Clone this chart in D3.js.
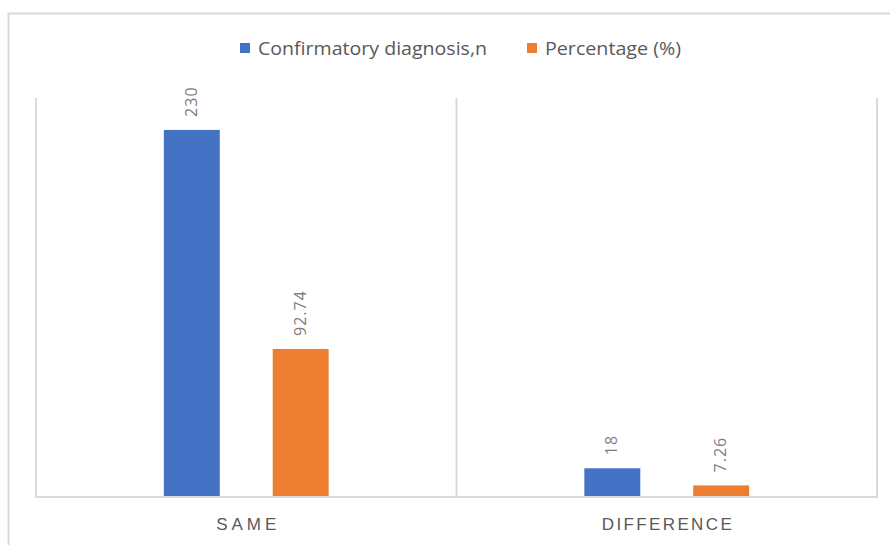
<!DOCTYPE html>
<html>
<head>
<meta charset="utf-8">
<script src="https://cdn.jsdelivr.net/npm/d3@7/dist/d3.min.js"></script>
<style>
  html, body { margin: 0; padding: 0; background: #fff; }
  svg { display: block; }
  text { font-family: "Liberation Sans Narrow", "Open Sans", sans-serif; }
</style>
</head>
<body>
<svg id="chart" width="890" height="545"></svg>
<script>
// Chart data
const categories = ["SAME", "DIFFERENCE"];
const seriesNames = ["Confirmatory diagnosis,n", "Percentage (%)"];
const diagnosisCounts = [230, 18];
const percentages = [92.74, 7.26];
const valueLabels = [["230", "92.74"], ["18", "7.26"]];
const colors = ["#4472C4", "#ED7D31"];

const svg = d3.select("#chart");

// Outer chart frame (extends past the right and bottom edges)
svg.append("rect")
  .attr("x", 8.5).attr("y", 13.5)
  .attr("width", 900).attr("height", 560)
  .attr("fill", "#fff")
  .attr("stroke", "#d9d9d9").attr("stroke-width", 2);

const plot = { left: 36, right: 877, top: 98, bottom: 497 };

const x0 = d3.scaleBand()
  .domain(categories)
  .range([plot.left, plot.right])
  .paddingInner(0).paddingOuter(0);

const x1 = d3.scaleBand()
  .domain(seriesNames)
  .range([0, x0.bandwidth()])
  .paddingInner(0.486)
  .paddingOuter(1.174);

const y = d3.scaleLinear().domain([0, 250]).range([plot.bottom, plot.top]);

// Vertical category separators
const sepPositions = [plot.left, plot.left + x0.bandwidth(), plot.right];
svg.append("g").selectAll("line")
  .data(sepPositions)
  .join("line")
  .attr("x1", d => d).attr("x2", d => d)
  .attr("y1", plot.top).attr("y2", plot.bottom)
  .attr("stroke", "#d9d9d9").attr("stroke-width", 2);

// Bars
const rows = categories.map((c, i) => ({
  category: c,
  values: [diagnosisCounts[i], percentages[i]],
  labels: valueLabels[i]
}));

const groups = svg.append("g").selectAll("g")
  .data(rows)
  .join("g")
  .attr("transform", d => `translate(${x0(d.category)},0)`);

groups.selectAll("rect")
  .data(d => d.values.map((v, j) => ({ v, j, label: d.labels[j] })))
  .join("rect")
  .attr("x", d => x1(seriesNames[d.j]))
  .attr("width", x1.bandwidth())
  .attr("y", d => y(d.v))
  .attr("height", d => y(0) - y(d.v))
  .attr("fill", d => colors[d.j]);

// Rotated value labels
groups.selectAll("text")
  .data(d => d.values.map((v, j) => ({ v, j, label: d.labels[j] })))
  .join("text")
  .attr("transform", d => {
    const cx = x1(seriesNames[d.j]) + x1.bandwidth() / 2 + 5;
    const cy = y(d.v) - 13;
    return `translate(${cx},${cy}) rotate(-90)`;
  })
  .attr("text-anchor", "start")
  .attr("font-size", 16)
  .attr("letter-spacing", 1)
  .attr("fill", "#7f7f7f")
  .style("font-family", "\"Open Sans\", sans-serif")
  .text(d => d.label);

// Bottom axis line
svg.append("line")
  .attr("x1", plot.left - 1).attr("x2", plot.right + 1)
  .attr("y1", plot.bottom).attr("y2", plot.bottom)
  .attr("stroke", "#d9d9d9").attr("stroke-width", 2);

// Category labels
const catWidths = { "SAME": 60, "DIFFERENCE": 130 };
const xAxis = d3.axisBottom(x0).tickSize(0).tickPadding(0);
const axisG = svg.append("g")
  .attr("transform", `translate(0,${plot.bottom})`)
  .call(xAxis);
axisG.select(".domain").remove();
axisG.selectAll("text")
  .attr("y", 33)
  .attr("dy", 0)
  .attr("font-size", 17)
  .attr("textLength", d => catWidths[d])
  .attr("lengthAdjust", "spacing")
  .attr("fill", "#595959")
  .style("font-family", "\"Liberation Sans Narrow\", sans-serif");

// Legend
const legendItems = [
  { name: seriesNames[0], color: colors[0], x: 240, w: 229 },
  { name: seriesNames[1], color: colors[1], x: 527, w: 136 }
];
const legend = svg.append("g");
legendItems.forEach(item => {
  legend.append("rect")
    .attr("x", item.x).attr("y", 43)
    .attr("width", 10).attr("height", 10)
    .attr("fill", item.color);
  legend.append("text")
    .attr("x", item.x + 18).attr("y", 55)
    .attr("font-size", 19)
    .attr("textLength", item.w)
    .attr("lengthAdjust", "spacingAndGlyphs")
    .attr("fill", "#595959")
    .text(item.name);
});
</script>
</body>
</html>
